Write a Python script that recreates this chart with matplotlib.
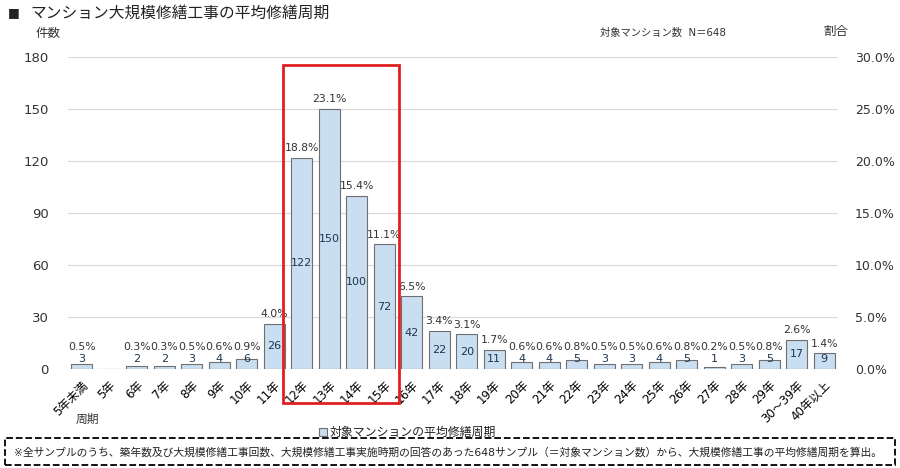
import numpy as np
import matplotlib
matplotlib.use('Agg')
import matplotlib.pyplot as plt
import matplotlib.patches as patches

plt.rcParams['font.family'] = ['DejaVu Sans', 'Noto Sans CJK JP']

# データ
periods = ['5年未満', '5年', '6年', '7年', '8年', '9年', '10年', '11年', '12年', '13年',
           '14年', '15年', '16年', '17年', '18年', '19年', '20年', '21年', '22年', '23年',
           '24年', '25年', '26年', '27年', '28年', '29年', '30～39年', '40年以上']
counts = [3, 0, 2, 2, 3, 4, 6, 26, 122, 150, 100, 72, 42, 22, 20, 11,
          4, 4, 5, 3, 3, 4, 5, 1, 3, 5, 17, 9]
shares = [0.5, None, 0.3, 0.3, 0.5, 0.6, 0.9, 4.0, 18.8, 23.1, 15.4, 11.1, 6.5, 3.4, 3.1, 1.7,
          0.6, 0.6, 0.8, 0.5, 0.5, 0.6, 0.8, 0.2, 0.5, 0.8, 2.6, 1.4]
left_ticks = [0, 30, 60, 90, 120, 150, 180]
right_ticks = [0, 5, 10, 15, 20, 25, 30]

fig = plt.figure(figsize=(9, 4.68), dpi=100)
ax = fig.add_axes([68/900, 1-369/468, 770/900, 312/468])

x = np.arange(len(periods))
ax.bar(x, counts, width=0.78, color='#c9def1', edgecolor='#6f6f6f', linewidth=0.8, zorder=3)

# 件数ラベル（棒の中央）と割合ラベル（棒の上）
for i, (c, s) in enumerate(zip(counts, shares)):
    if c > 0:
        ax.text(i, max(c/2, 5.5), str(c), ha='center', va='center', fontsize=8,
                color='#1f3550', zorder=4)
    if s is not None:
        ax.text(i, max(c+5.5, 12.5), f'{s:.1f}%', ha='center', va='center', fontsize=7.8,
                color='#333333', zorder=4)

ax.set_xlim(-0.5, len(periods)-0.5)
ax.set_ylim(0, 180)
ax.set_yticks(left_ticks)
ax.set_xticks(x)
ax.set_xticklabels(periods, rotation=45, ha='right', rotation_mode='anchor', fontsize=8.5)
ax.tick_params(axis='x', length=0, pad=7)
ax.tick_params(axis='y', length=0, pad=14, labelsize=9.5, labelcolor='#333333')
ax.grid(axis='y', color='#d9d9d9', linewidth=0.8, zorder=0)
for sp in ax.spines.values():
    sp.set_visible(False)

ax2 = ax.twinx()
ax2.set_ylim(0, 30)
ax2.set_yticks(right_ticks)
ax2.set_yticklabels([f'{t:.1f}%' for t in right_ticks])
ax2.tick_params(axis='y', length=0, pad=12, labelsize=9, labelcolor='#333333')
for sp in ax2.spines.values():
    sp.set_visible(False)

# 文字
fig.text(8/900, 1-13/468, '■', fontsize=9, va='center', color='#222222')
fig.text(30/900, 1-13/468, 'マンション大規模修繕工事の平均修繕周期', fontsize=11.3,
         va='center', color='#222222')
fig.text(36/900, 1-33/468, '件数', fontsize=9, va='center', color='#333333')
fig.text(600/900, 1-33/468, '対象マンション数  N＝648', fontsize=7.4, va='center', color='#333333')
fig.text(823/900, 1-31/468, '割合', fontsize=9, va='center', color='#333333')
fig.text(76/900, 1-419/468, '周期', fontsize=8.5, va='center', color='#333333')

# 凡例
fig.add_artist(patches.Rectangle((319/900, 1-436/468), 8/900, 8/468, transform=fig.transFigure,
                                 facecolor='#c9def1', edgecolor='#6f6f6f', linewidth=0.8))
fig.text(330/900, 1-432/468, '対象マンションの平均修繕周期', fontsize=8.6, va='center', color='#222222')

# 注記（点線枠）
fig.add_artist(patches.Rectangle((5/900, 1-465/468), 890/900, 27/468, transform=fig.transFigure,
                                 facecolor='none', edgecolor='black', linewidth=1.3, linestyle='--'))
fig.text(14/900, 1-452/468,
         '※全サンプルのうち、築年数及び大規模修繕工事回数、大規模修繕工事実施時期の回答のあった648サンプル（＝対象マンション数）から、大規模修繕工事の平均修繕周期を算出。',
         fontsize=7.75, va='center', color='#222222')

# 12～15年の強調枠
fig.add_artist(patches.Rectangle((283/900, 1-403/468), 116/900, 338/468, transform=fig.transFigure,
                                 facecolor='none', edgecolor='#e02020', linewidth=2))

fig.savefig('out.png', dpi=100)
